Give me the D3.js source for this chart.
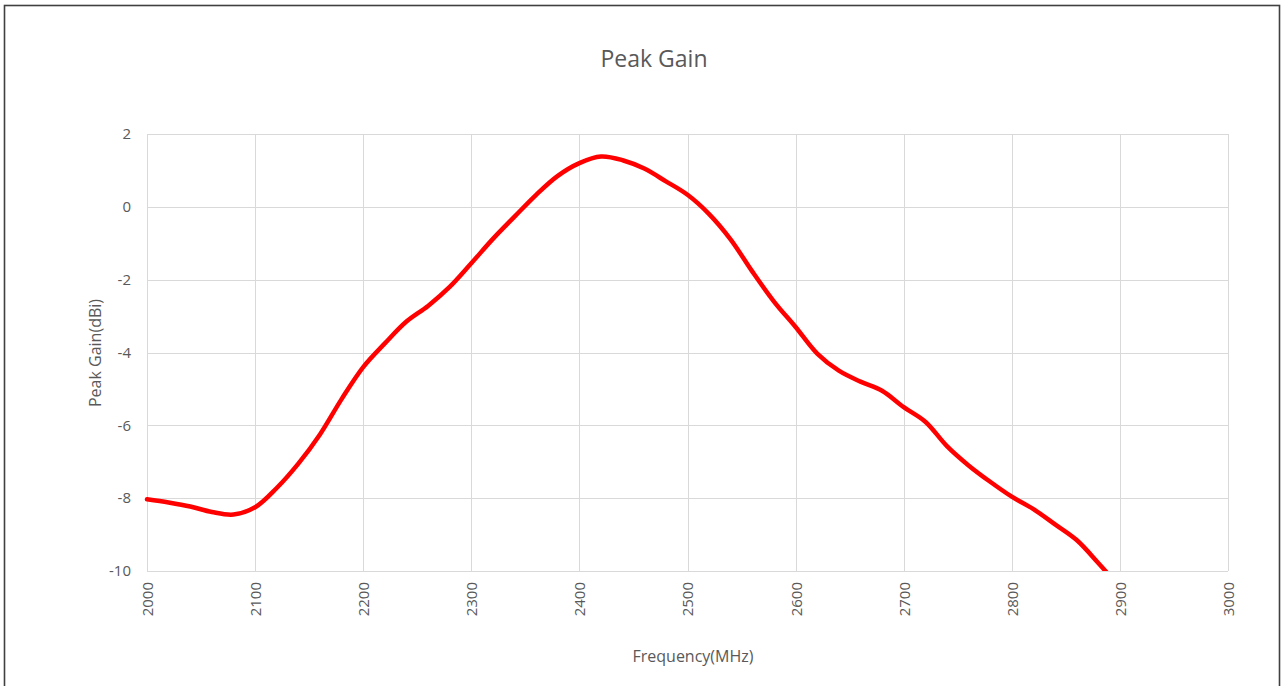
<!DOCTYPE html>
<html>
<head>
<meta charset="utf-8">
<script src="https://cdn.jsdelivr.net/npm/d3@7"></script>
<style>
  html, body { margin: 0; padding: 0; background: #fff; }
  svg { display: block; }
  text { font-family: "Open Sans", "Noto Sans", sans-serif; fill: #595959; }
</style>
</head>
<body>
<svg id="chart" width="1284" height="686"></svg>
<script>
const titleText = "Peak Gain";
const xAxisTitle = "Frequency(MHz)";
const yAxisTitle = "Peak Gain(dBi)";
const xTicks = [2000, 2100, 2200, 2300, 2400, 2500, 2600, 2700, 2800, 2900, 3000];
const yTicks = [2, 0, -2, -4, -6, -8, -10];
const freqs = [2000, 2020, 2040, 2060, 2080, 2100, 2120, 2140, 2160, 2180,
               2200, 2220, 2240, 2260, 2280, 2300, 2320, 2340, 2360, 2380,
               2400, 2420, 2440, 2460, 2480, 2500, 2520, 2540, 2560, 2580,
               2600, 2620, 2640, 2660, 2680, 2700, 2720, 2740, 2760, 2780,
               2800, 2820, 2840, 2860, 2880, 2900];
const gains = [-8.03, -8.12, -8.23, -8.38, -8.45, -8.25, -7.72, -7.05, -6.25, -5.28,
               -4.4, -3.75, -3.15, -2.72, -2.2, -1.55, -0.88, -0.27, 0.33, 0.85,
               1.2, 1.38, 1.28, 1.05, 0.7, 0.33, -0.2, -0.9, -1.78, -2.6,
               -3.3, -4.03, -4.5, -4.8, -5.05, -5.5, -5.9, -6.57, -7.1, -7.55,
               -7.96, -8.3, -8.72, -9.15, -9.78, -10.45];

const svg = d3.select("#chart");

// outer frame
svg.append("rect").attr("x", 4.5).attr("y", 5.5).attr("width", 1275).attr("height", 700)
  .attr("fill", "#fff").attr("stroke", "#404040").attr("stroke-width", 1.6);

const pL = 147, pR = 1228, pT = 134, pB = 571;
const x = d3.scaleLinear().domain([2000, 3000]).range([pL, pR]);
const y = d3.scaleLinear().domain([-10, 2]).range([pB, pT]);

// gridlines
const grid = svg.append("g");
grid.selectAll(".hg").data(yTicks).join("line")
  .attr("x1", pL).attr("x2", pR)
  .attr("y1", d => Math.round(y(d)) + 0.5).attr("y2", d => Math.round(y(d)) + 0.5)
  .attr("stroke", "#d9d9d9").attr("stroke-width", 1);
grid.selectAll(".vg").data(xTicks).join("line")
  .attr("y1", pT).attr("y2", pB)
  .attr("x1", d => Math.round(x(d)) + 0.5).attr("x2", d => Math.round(x(d)) + 0.5)
  .attr("stroke", "#d9d9d9").attr("stroke-width", 1);

// y axis labels
const yAxis = d3.axisLeft(y).tickValues(yTicks).tickSize(0).tickPadding(0).tickFormat(d => String(d));
const yg = svg.append("g").attr("transform", `translate(${pL - 16},0)`).call(yAxis);
yg.select(".domain").remove();
yg.selectAll("text").style("font-size", "15px").attr("fill", "#595959")
  .style("font-family", '"Open Sans", sans-serif');

// x axis labels (rotated)
const xAxis = d3.axisBottom(x).tickValues(xTicks).tickSize(0).tickPadding(0).tickFormat(d => String(d));
const xg = svg.append("g").attr("transform", `translate(0,${pB})`).call(xAxis);
xg.select(".domain").remove();
xg.selectAll("text")
  .style("font-size", "15px").attr("fill", "#595959")
  .style("font-family", '"Open Sans", sans-serif')
  .attr("text-anchor", "end")
  .attr("transform", "rotate(-90)")
  .attr("x", -11).attr("y", 0).attr("dy", "0.36em");

// clip
svg.append("clipPath").attr("id", "clip").append("rect")
  .attr("x", pL - 5).attr("y", pT - 5).attr("width", pR - pL + 10).attr("height", pB - pT + 5);

const line = d3.line().x((d, i) => x(freqs[i])).y(d => y(d)).curve(d3.curveCatmullRom.alpha(0.5));
svg.append("path").datum(gains)
  .attr("clip-path", "url(#clip)")
  .attr("d", line).attr("fill", "none")
  .attr("stroke", "#ff0000").attr("stroke-width", 4.5)
  .attr("stroke-linejoin", "round").attr("stroke-linecap", "round");

// titles
svg.append("text").attr("x", 654).attr("y", 67).attr("text-anchor", "middle")
  .style("font-size", "23px").text(titleText);
svg.append("text").attr("x", 693).attr("y", 662).attr("text-anchor", "middle")
  .style("font-size", "16px").text(xAxisTitle);
svg.append("text").attr("transform", "translate(101,353) rotate(-90)").attr("text-anchor", "middle")
  .style("font-size", "16px").text(yAxisTitle);
</script>
</body>
</html>
